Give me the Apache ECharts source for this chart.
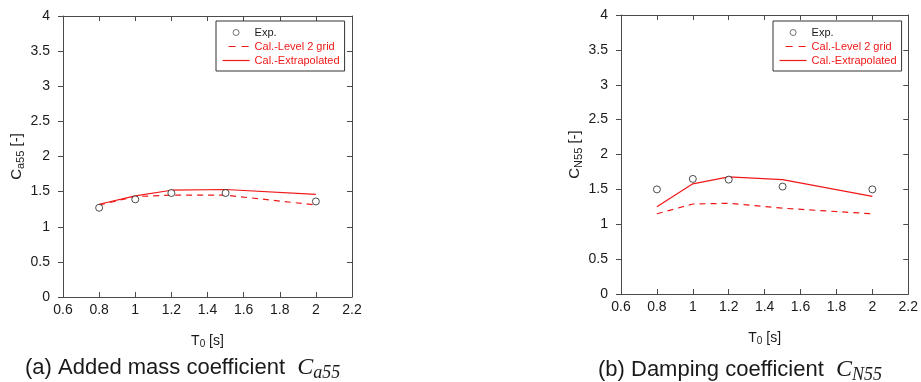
<!DOCTYPE html>
<html>
<head>
<meta charset="utf-8">
<script src="https://cdn.jsdelivr.net/npm/echarts@6/dist/echarts.min.js"></script>
<style>
html,body{margin:0;padding:0;background:#fff;}
#c{width:921px;height:382px;}
</style>
</head>
<body>
<div id="c"></div>
<script>
// ---- data ----
const T0 = [0.8, 1.0, 1.2, 1.5, 2.0];
const xTicks = [0.6, 0.8, 1.0, 1.2, 1.4, 1.6, 1.8, 2.0, 2.2];
const yTicks = [0, 0.5, 1, 1.5, 2, 2.5, 3, 3.5, 4];
// (a) Added mass coefficient Ca55
const ca55Exp = [1.27, 1.39, 1.48, 1.48, 1.36];
const ca55Level2 = [1.31, 1.43, 1.45, 1.45, 1.31];
const ca55Extrap = [1.32, 1.44, 1.52, 1.53, 1.46];
// (b) Damping coefficient CN55
const cn55Exp = [1.50, 1.65, 1.64, 1.54, 1.50];
const cn55Level2 = [1.15, 1.29, 1.30, 1.23, 1.15];
const cn55Extrap = [1.25, 1.58, 1.68, 1.64, 1.40];
const legendNames = ['Exp.', 'Cal.-Level 2 grid', 'Cal.-Extrapolated'];

const pair = (xs, ys) => xs.map((x, i) => [x, ys[i]]);
const RED = '#f01818';
const AX = '#4a4a4a';
const TXT = '#1a1a1a';
const FONT = '"Liberation Sans", Arial, sans-serif';
const MATH = '"Liberation Serif", serif';

function xAxes(g) {
  const base = {
    type: 'value', gridIndex: g, min: xTicks[0], max: xTicks[xTicks.length - 1], interval: 0.2,
    splitLine: {show: false},
    axisLine: {show: true, onZero: false, lineStyle: {color: AX, width: 1}},
    axisTick: {show: true, inside: true, length: 5, lineStyle: {color: AX}}
  };
  return [
    Object.assign({}, base, {
      position: 'bottom',
      axisLabel: {margin: 6, color: TXT, fontSize: 14, fontFamily: FONT,
        formatter: v => String(+v.toFixed(1))},
      name: '{a|T}{b|0}{a| [s]}', nameLocation: 'middle', nameGap: 36,
      nameTextStyle: {rich: {
        a: {fontSize: 14, fontFamily: FONT, color: TXT, lineHeight: 16},
        b: {fontSize: 10, fontFamily: FONT, color: TXT, lineHeight: 12, verticalAlign: 'bottom'}
      }}
    }),
    Object.assign({}, base, {position: 'top', axisLabel: {show: false}})
  ];
}
function yAxes(g, sub) {
  const base = {
    type: 'value', gridIndex: g, min: yTicks[0], max: yTicks[yTicks.length - 1], interval: 0.5,
    splitLine: {show: false},
    axisLine: {show: true, onZero: false, lineStyle: {color: AX, width: 1}}
  };
  return [
    Object.assign({}, base, {
      position: 'left',
      axisTick: {show: true, inside: false, length: 5, lineStyle: {color: AX}},
      axisLabel: {margin: 13, color: TXT, fontSize: 14, fontFamily: FONT,
        formatter: v => String(+v.toFixed(1))},
      name: '{c|C}{s|' + sub + '}{c| [-]}', nameLocation: 'middle', nameGap: 34, nameRotate: 90,
      nameTextStyle: {rich: {
        c: {fontSize: 15, fontFamily: FONT, color: TXT, lineHeight: 20},
        s: {fontSize: 11, fontFamily: FONT, color: TXT, lineHeight: 12, verticalAlign: 'bottom'}
      }}
    }),
    Object.assign({}, base, {
      position: 'right',
      axisTick: {show: true, inside: true, length: 5, lineStyle: {color: AX}},
      axisLabel: {show: false}
    })
  ];
}
function seriesFor(g, exp, lv2, ext) {
  return [
    {name: legendNames[0], type: 'scatter', xAxisIndex: 2 * g, yAxisIndex: 2 * g,
     data: pair(T0, exp), symbol: 'circle', symbolSize: 7,
     itemStyle: {color: '#ffffff', borderColor: '#222', borderWidth: 1}, z: 3},
    {name: legendNames[1], type: 'line', xAxisIndex: 2 * g, yAxisIndex: 2 * g,
     data: pair(T0, lv2), symbol: 'none', showSymbol: false,
     lineStyle: {color: RED, width: 1.2, type: [6, 5]}, itemStyle: {color: RED}},
    {name: legendNames[2], type: 'line', xAxisIndex: 2 * g, yAxisIndex: 2 * g,
     data: pair(T0, ext), symbol: 'none', showSymbol: false,
     lineStyle: {color: RED, width: 1.2, type: 'solid'}, itemStyle: {color: RED}}
  ];
}
function legend(left) {
  return {
    left: left, top: 21, orient: 'vertical', align: 'left',
    borderColor: '#333', borderWidth: 1, padding: [6, 5, 5, 6],
    itemWidth: 27, itemHeight: 6, itemGap: 3, selectedMode: false,
    textStyle: {fontSize: 11, fontFamily: FONT, color: RED},
    data: [
      {name: legendNames[0], textStyle: {color: TXT},
       itemStyle: {color: '#ffffff', borderColor: '#222', borderWidth: 0.8}},
      {name: legendNames[1], itemStyle: {opacity: 0},
       lineStyle: {type: [7, 6], dashOffset: 7, width: 1.2, color: RED}},
      {name: legendNames[2], itemStyle: {opacity: 0},
       lineStyle: {type: 'solid', width: 1.2, color: RED}}
    ]
  };
}
const chart = echarts.init(document.getElementById('c'), null, {renderer: 'canvas'});
const s0 = seriesFor(0, ca55Exp, ca55Level2, ca55Extrap);
const s1 = seriesFor(1, cn55Exp, cn55Level2, cn55Extrap);
const capRich = {
  t: {fontSize: 22, fontFamily: FONT, fill: TXT, lineHeight: 28},
  m: {fontSize: 24, fontFamily: MATH, fontStyle: 'italic', fill: TXT, lineHeight: 28},
  s: {fontSize: 18, fontFamily: MATH, fontStyle: 'italic', fill: TXT, lineHeight: 20, verticalAlign: 'bottom'}
};
const option = {
  animation: false,
  backgroundColor: '#ffffff',
  grid: [
    {left: 63, top: 16, width: 289, height: 281},
    {left: 621, top: 15, width: 288, height: 279}
  ],
  xAxis: [...xAxes(0), ...xAxes(1)],
  yAxis: [...yAxes(0, 'a55'), ...yAxes(1, 'N55')],
  legend: [legend(216), legend(773)],
  series: [...s0, ...s1],
  graphic: [
    {type: 'text', left: 25, top: 356, style: {
      text: '{t|(a) Added mass coefficient  }{m|C}{s|a55}', rich: capRich}},
    {type: 'text', left: 598, top: 358, style: {
      text: '{t|(b) Damping coefficient  }{m|C}{s|N55}', rich: capRich}}
  ]
};
chart.setOption(option);
</script>
</body>
</html>
